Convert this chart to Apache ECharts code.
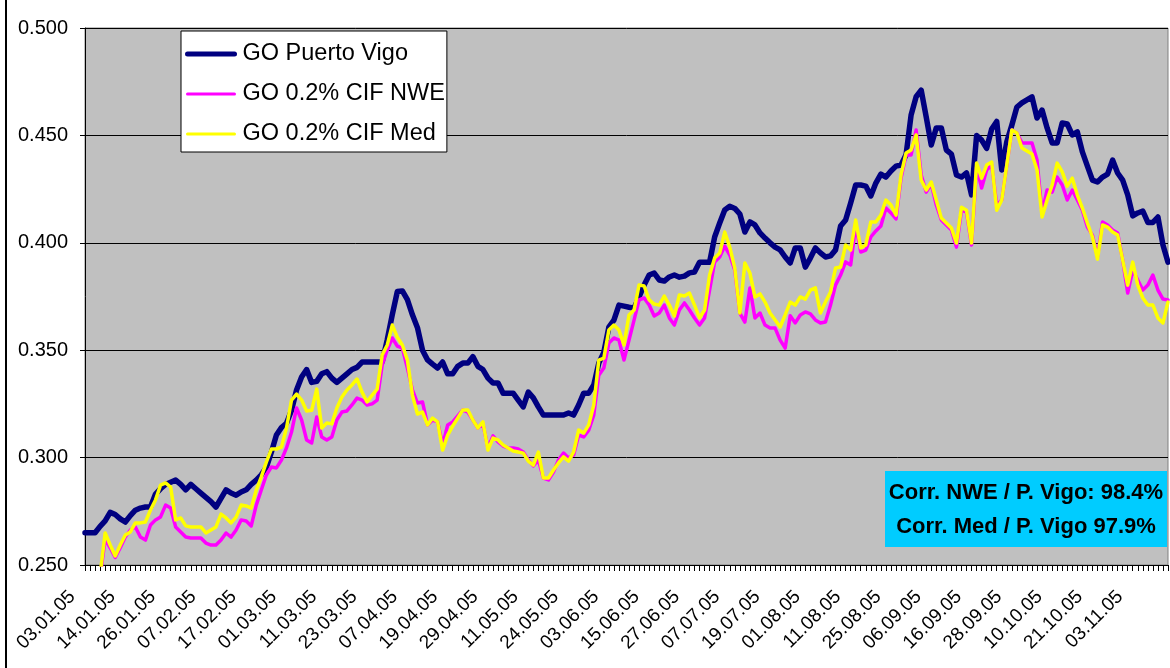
<!DOCTYPE html>
<html>
<head>
<meta charset="utf-8">
<script src="https://cdn.jsdelivr.net/npm/echarts@6/dist/echarts.min.js"></script>
<style>
html,body{margin:0;padding:0;background:#fff;}
#chart{width:1170px;height:668px;}
</style>
</head>
<body>
<div id="chart"></div>
<script>
const dates = [
'03.01.05','04.01.05','05.01.05','07.01.05','10.01.05','11.01.05','12.01.05','13.01.05','14.01.05','17.01.05',
'18.01.05','19.01.05','20.01.05','21.01.05','24.01.05','25.01.05','26.01.05','27.01.05','28.01.05','31.01.05',
'01.02.05','02.02.05','03.02.05','04.02.05','07.02.05','08.02.05','09.02.05','10.02.05','11.02.05','14.02.05',
'15.02.05','16.02.05','17.02.05','18.02.05','21.02.05','22.02.05','23.02.05','24.02.05','25.02.05','28.02.05',
'01.03.05','02.03.05','03.03.05','04.03.05','07.03.05','08.03.05','09.03.05','10.03.05','11.03.05','14.03.05',
'15.03.05','16.03.05','17.03.05','18.03.05','21.03.05','22.03.05','23.03.05','29.03.05','30.03.05','31.03.05',
'01.04.05','04.04.05','05.04.05','06.04.05','07.04.05','08.04.05','11.04.05','12.04.05','13.04.05','14.04.05',
'15.04.05','18.04.05','19.04.05','20.04.05','21.04.05','22.04.05','25.04.05','26.04.05','27.04.05','28.04.05',
'29.04.05','02.05.05','03.05.05','04.05.05','05.05.05','06.05.05','09.05.05','10.05.05','11.05.05','12.05.05',
'13.05.05','17.05.05','18.05.05','19.05.05','20.05.05','23.05.05','24.05.05','25.05.05','26.05.05','27.05.05',
'30.05.05','31.05.05','01.06.05','02.06.05','03.06.05','06.06.05','07.06.05','08.06.05','09.06.05','10.06.05',
'13.06.05','14.06.05','15.06.05','16.06.05','17.06.05','20.06.05','21.06.05','22.06.05','23.06.05','24.06.05',
'27.06.05','28.06.05','29.06.05','30.06.05','01.07.05','04.07.05','05.07.05','06.07.05','07.07.05','08.07.05',
'11.07.05','12.07.05','13.07.05','14.07.05','15.07.05','18.07.05','19.07.05','20.07.05','21.07.05','22.07.05',
'26.07.05','27.07.05','28.07.05','29.07.05','01.08.05','02.08.05','03.08.05','04.08.05','05.08.05','08.08.05',
'09.08.05','10.08.05','11.08.05','12.08.05','17.08.05','18.08.05','19.08.05','22.08.05','23.08.05','24.08.05',
'25.08.05','26.08.05','29.08.05','30.08.05','31.08.05','01.09.05','02.09.05','05.09.05','06.09.05','07.09.05',
'08.09.05','09.09.05','12.09.05','13.09.05','14.09.05','15.09.05','16.09.05','19.09.05','20.09.05','21.09.05',
'22.09.05','23.09.05','26.09.05','27.09.05','28.09.05','29.09.05','30.09.05','03.10.05','04.10.05','05.10.05',
'06.10.05','07.10.05','10.10.05','11.10.05','13.10.05','14.10.05','17.10.05','18.10.05','19.10.05','20.10.05',
'21.10.05','24.10.05','25.10.05','26.10.05','27.10.05','28.10.05','31.10.05','02.11.05','03.11.05','04.11.05',
'07.11.05','08.11.05','09.11.05','10.11.05','11.11.05','14.11.05'
];

const vigo = [
0.265,0.265,0.265,0.268,0.2705,0.2745,0.2735,0.2715,0.270,0.273,
0.2755,0.2765,0.277,0.277,0.283,0.2855,0.2875,0.2885,0.2895,0.2875,
0.285,0.2875,0.2855,0.2835,0.2815,0.2795,0.277,0.281,0.285,0.2835,
0.2825,0.284,0.285,0.2875,0.2895,0.292,0.2955,0.3025,0.3105,0.314,
0.316,0.322,0.3315,0.3375,0.341,0.335,0.3355,0.339,0.340,0.337,
0.335,0.337,0.339,0.341,0.342,0.3445,0.3445,0.3445,0.3445,0.3445,
0.3548,0.3665,0.3773,0.3776,0.3735,0.3665,0.3605,0.350,0.3455,0.3435,
0.3417,0.3445,0.339,0.339,0.3425,0.344,0.344,0.347,0.3425,0.341,
0.337,0.3347,0.3347,0.330,0.330,0.330,0.3268,0.3236,0.3305,0.3278,
0.3236,0.3198,0.3198,0.3198,0.3198,0.3198,0.3208,0.3198,0.3245,0.330,
0.330,0.3338,0.344,0.349,0.3608,0.364,0.371,0.3705,0.370,0.3696,
0.3748,0.3804,0.385,0.3859,0.3827,0.3822,0.3841,0.385,0.384,0.3845,
0.386,0.3864,0.391,0.391,0.391,0.4027,0.4092,0.4153,0.417,0.416,
0.4134,0.405,0.4097,0.4083,0.4046,0.4022,0.400,0.398,0.3967,0.3934,
0.3906,0.3976,0.3976,0.3887,0.3929,0.3976,0.3953,0.3934,0.3939,0.3967,
0.4078,0.4106,0.4185,0.4269,0.4269,0.4264,0.4218,0.4278,0.432,0.4306,
0.4334,0.4357,0.4362,0.441,0.4595,0.468,0.4711,0.4586,0.4455,0.4535,
0.4535,0.4432,0.4413,0.4316,0.4306,0.4325,0.4223,0.450,0.4478,0.444,
0.453,0.4565,0.4339,0.447,0.4548,0.4632,0.4651,0.4665,0.4679,0.4581,
0.4618,0.4535,0.4465,0.4465,0.4558,0.4553,0.4502,0.4516,0.4423,0.4357,
0.4292,0.4283,0.4306,0.432,0.4385,0.4325,0.4292,0.4223,0.4125,0.4139,
0.4148,0.4095,0.4095,0.412,0.399,0.391
];

const nwe = [
0.244,0.243,0.242,0.2445,0.262,0.258,0.2535,0.258,0.263,0.2663,
0.2677,0.263,0.2616,0.2686,0.271,0.2724,0.2779,0.2765,0.2677,0.2654,
0.263,0.2626,0.2626,0.2626,0.2602,0.2593,0.2593,0.2616,0.2649,0.263,
0.2663,0.271,0.2705,0.2682,0.2779,0.2849,0.2919,0.2956,0.2952,0.2989,
0.3045,0.3119,0.3231,0.3175,0.3082,0.3068,0.3189,0.3096,0.3082,0.3096,
0.3175,0.3212,0.3217,0.3245,0.3277,0.3268,0.3245,0.325,0.3268,0.3431,
0.3501,0.3557,0.3519,0.351,0.3417,0.3315,0.3254,0.3259,0.3152,0.3175,
0.3166,0.3059,0.3152,0.3166,0.3194,0.3222,0.3212,0.3175,0.3138,0.3157,
0.3045,0.3101,0.3073,0.3054,0.3045,0.3045,0.304,0.3026,0.2989,0.2961,
0.2989,0.2905,0.2896,0.2933,0.2989,0.3021,0.2998,0.3012,0.3105,0.3096,
0.3128,0.3198,0.3384,0.3417,0.3533,0.3557,0.3547,0.3454,0.3547,0.364,
0.3734,0.3743,0.371,0.3659,0.3673,0.371,0.365,0.3617,0.3687,0.372,
0.3687,0.365,0.3617,0.365,0.378,0.3911,0.3934,0.3985,0.3943,0.3873,
0.3673,0.3631,0.379,0.365,0.3673,0.3617,0.3603,0.3603,0.3547,0.351,
0.366,0.3627,0.3664,0.3678,0.3669,0.3641,0.3627,0.3631,0.371,0.3803,
0.385,0.3911,0.3897,0.4083,0.3957,0.3966,0.4027,0.4055,0.4078,0.4162,
0.4139,0.4111,0.4301,0.4409,0.4409,0.4525,0.4316,0.4236,0.4274,0.4176,
0.4106,0.4083,0.406,0.398,0.4152,0.4143,0.399,0.4353,0.4255,0.4339,
0.4362,0.4176,0.4199,0.4362,0.4525,0.4511,0.4465,0.4465,0.4465,0.4385,
0.4139,0.4246,0.4236,0.4306,0.4269,0.4199,0.4246,0.4199,0.4152,0.4073,
0.4036,0.3934,0.4097,0.4083,0.406,0.4046,0.392,0.3766,0.3873,0.3827,
0.378,0.3803,0.385,0.378,0.3738,0.3734
];

const med = [
0.245,0.244,0.243,0.2455,0.2649,0.2593,0.2542,0.2593,0.264,0.2654,
0.2696,0.2696,0.270,0.2756,0.2803,0.2872,0.2882,0.2863,0.271,0.2719,
0.2682,0.2677,0.2677,0.2677,0.2649,0.2663,0.2677,0.2737,0.2719,0.2696,
0.2723,0.2779,0.2775,0.2765,0.2849,0.291,0.2979,0.304,0.304,0.3049,
0.3138,0.3268,0.3296,0.3268,0.3217,0.322,0.3319,0.3138,0.3161,0.3157,
0.3231,0.3282,0.3315,0.3338,0.3366,0.3305,0.3259,0.3291,0.3319,0.3478,
0.3524,0.3617,0.3561,0.3524,0.3454,0.3291,0.3203,0.3212,0.3152,0.3184,
0.3166,0.3035,0.3105,0.3147,0.3184,0.3222,0.3222,0.3175,0.3138,0.3166,
0.3035,0.3091,0.3082,0.3059,0.3045,0.3031,0.3026,0.3021,0.2984,0.2965,
0.3026,0.2905,0.2905,0.2942,0.2975,0.3003,0.2984,0.3026,0.3128,0.3114,
0.3152,0.3245,0.3454,0.3463,0.3594,0.3617,0.3594,0.3524,0.3664,0.3687,
0.3804,0.3799,0.3734,0.3715,0.371,0.3752,0.371,0.3659,0.3757,0.3752,
0.3766,0.371,0.365,0.3687,0.385,0.3929,0.3952,0.405,0.398,0.3882,
0.3673,0.3906,0.3859,0.3748,0.3762,0.3724,0.3673,0.3641,0.3608,0.3664,
0.3724,0.371,0.3748,0.3738,0.378,0.379,0.3673,0.3724,0.3771,0.3883,
0.3887,0.399,0.3966,0.4106,0.3976,0.399,0.4097,0.4097,0.4129,0.4199,
0.4176,0.4129,0.4316,0.4418,0.4432,0.4502,0.4292,0.4246,0.4283,0.4199,
0.4115,0.4092,0.4069,0.3999,0.4166,0.4152,0.3999,0.4371,0.4301,0.4362,
0.4376,0.4152,0.4199,0.4362,0.4525,0.4511,0.4441,0.4427,0.4413,0.4339,
0.412,0.4199,0.4269,0.4371,0.433,0.4264,0.4301,0.4222,0.4162,0.4092,
0.4027,0.3924,0.4083,0.4073,0.405,0.4036,0.392,0.3803,0.391,0.3803,
0.3743,0.371,0.371,0.365,0.3627,0.3724
];

const seriesNames = ['GO Puerto Vigo', 'GO 0.2% CIF NWE', 'GO 0.2% CIF Med'];
const corrLines = ['Corr. NWE / P. Vigo: 98.4%', 'Corr. Med / P. Vigo 97.9%'];

const FONT = '"Liberation Sans", Arial, sans-serif';
const chart = echarts.init(document.getElementById('chart'), null, {renderer: 'canvas'});

chart.setOption({
  animation: false,
  backgroundColor: '#ffffff',
  grid: {
    left: 85, right: 2, top: 28, bottom: 103,
    show: true, backgroundColor: '#c0c0c0', borderColor: '#808080', borderWidth: 1
  },
  legend: {
    orient: 'vertical',
    left: 181, top: 31,
    padding: [11, 2, 6, 4],
    itemWidth: 47, itemHeight: 24, itemGap: 16,
    backgroundColor: '#ffffff',
    borderColor: '#000000', borderWidth: 1,
    itemStyle: {opacity: 0},
    textStyle: {fontFamily: FONT, fontSize: 23.5, color: '#000', padding: [0, 0, 0, 3]},
    data: [
      {name: seriesNames[0], lineStyle: {width: 5, color: '#000080', cap: 'round'}},
      {name: seriesNames[1], lineStyle: {width: 3, color: '#ff00ff'}},
      {name: seriesNames[2], lineStyle: {width: 3, color: '#ffff00'}}
    ]
  },
  xAxis: {
    type: 'category',
    data: dates,
    boundaryGap: false,
    axisLine: {lineStyle: {color: '#000', width: 1}},
    axisTick: {show: true, interval: 0, length: 6, lineStyle: {color: '#000'}},
    axisLabel: {
      interval: 7, rotate: 45, margin: 16, hideOverlap: false,
      padding: [0, 18, 0, 0],
      fontFamily: FONT, fontSize: 19, color: '#000'
    },
    splitLine: {show: false}
  },
  yAxis: {
    type: 'value',
    min: 0.25, max: 0.5, interval: 0.05,
    axisLine: {show: true, lineStyle: {color: '#000', width: 1}},
    axisTick: {show: true, length: 5, lineStyle: {color: '#000'}},
    axisLabel: {
      fontFamily: FONT, fontSize: 20, color: '#000', margin: 17,
      formatter: v => v.toFixed(3)
    },
    splitLine: {show: true, lineStyle: {color: '#000', width: 1}}
  },
  series: [
    {name: seriesNames[0], type: 'line', data: vigo, symbol: 'none', clip: true,
     lineStyle: {color: '#000080', width: 5.5, cap: 'round', join: 'round'}, itemStyle: {color: '#000080'}},
    {name: seriesNames[1], type: 'line', data: nwe, symbol: 'none', clip: true,
     lineStyle: {color: '#ff00ff', width: 3.5, cap: 'round', join: 'round'}, itemStyle: {color: '#ff00ff'}},
    {name: seriesNames[2], type: 'line', data: med, symbol: 'none', clip: true,
     lineStyle: {color: '#ffff00', width: 3.5, cap: 'round', join: 'round'}, itemStyle: {color: '#ffff00'}}
  ],
  graphic: [
    {type: 'line', shape: {x1: 6, y1: 0, x2: 6, y2: 668}, style: {stroke: '#000', lineWidth: 2}},
    {type: 'rect', left: 885, top: 471, z: 100,
     shape: {width: 282, height: 76}, style: {fill: '#00ccff'}},
    {type: 'text', z: 101, style: {x: 1026, y: 493, text: corrLines[0], align: 'center', verticalAlign: 'middle',
      font: 'bold 22px ' + FONT, fill: '#000'}},
    {type: 'text', z: 101, style: {x: 1026, y: 527, text: corrLines[1], align: 'center', verticalAlign: 'middle',
      font: 'bold 22px ' + FONT, fill: '#000'}}
  ]
});
</script>
</body>
</html>
